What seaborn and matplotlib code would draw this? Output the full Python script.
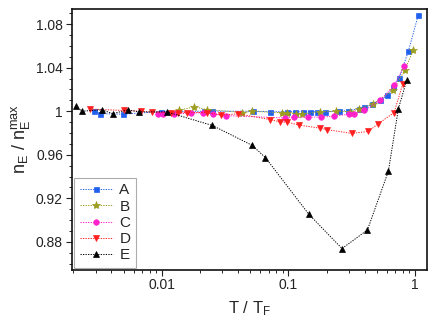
import numpy as np
import pandas as pd
import matplotlib
matplotlib.use("Agg")
import matplotlib.pyplot as plt
import matplotlib.ticker as mticker
import seaborn as sns

# ---- data ----
A_x = [0.00292, 0.00327, 0.00491, 0.00982, 0.0214, 0.0251, 0.0527, 0.0713, 0.0977, 0.1135,
       0.1305, 0.147, 0.168, 0.1955, 0.249, 0.293, 0.362, 0.397, 0.458, 0.530,
       0.605, 0.675, 0.752, 0.885, 1.062]
A_y = [1.0, 0.9978, 0.9973, 0.9996, 1.0, 1.0, 1.0, 0.9996, 0.9996, 0.9996,
       0.9996, 0.9996, 0.9996, 0.9996, 1.0, 1.0005, 1.0023, 1.0035, 1.0062, 1.0102,
       1.0145, 1.0222, 1.0309, 1.055, 1.0886]

B_x = [0.01368, 0.0180, 0.0228, 0.0432, 0.0511, 0.0897, 0.0982, 0.1146, 0.1289, 0.1786,
       0.2366, 0.3077, 0.364, 0.464, 0.675, 0.832, 0.970]
B_y = [1.001, 1.004, 1.0015, 0.9988, 1.0, 0.9985, 0.9987, 0.9978, 0.9978, 0.9993,
       1.0, 0.9996, 1.0022, 1.0067, 1.0195, 1.038, 1.0563]

C_x = [0.00925, 0.01013, 0.0125, 0.0169, 0.0213, 0.0252, 0.0322, 0.0946, 0.110, 0.1425,
       0.1796, 0.229, 0.2985, 0.331, 0.397, 0.530, 0.687, 0.819]
C_y = [0.9976, 0.9976, 0.9976, 0.9982, 0.9988, 0.9976, 0.996, 0.9938, 0.9944, 0.9945,
       0.9947, 0.9953, 0.9973, 0.9973, 1.0007, 1.0099, 1.0237, 1.0418]

D_x = [0.00272, 0.00499, 0.00684, 0.0083, 0.01177, 0.01343, 0.01574, 0.0228, 0.0293, 0.040,
       0.0721, 0.0865, 0.0977, 0.1205, 0.1786, 0.2016, 0.3177, 0.429, 0.514, 0.684, 0.800]
D_y = [1.002, 1.0007, 1.0, 0.9991, 0.9988, 0.9988, 0.9988, 0.9988, 0.9964, 0.9976,
       0.9923, 0.99, 0.99, 0.9873, 0.9844, 0.9831, 0.9796, 0.9815, 0.9886, 0.9988, 1.025]

E_x = [0.00209, 0.00234, 0.00335, 0.00409, 0.00543, 0.00656, 0.0109, 0.0251, 0.0518, 0.0659,
       0.1445, 0.265, 0.421, 0.616, 0.739, 0.861]
E_y = [1.0044, 1.0, 1.0013, 0.9978, 1.0013, 0.9994, 0.9994, 0.9869, 0.9686, 0.9573,
       0.9055, 0.8738, 0.8909, 0.9449, 1.0023, 1.0287]

labels = ["A", "B", "C", "D", "E"]
y_ticks = [0.88, 0.92, 0.96, 1.0, 1.04, 1.08]
x_ticks = [0.01, 0.1, 1]
x_ticklabels = ["0.01", "0.1", "1"]

# ---- style ----
sns.set_style("ticks")
plt.rcParams['font.family'] = ['Liberation Sans', 'DejaVu Sans']
plt.rcParams['mathtext.fontset'] = 'custom'
plt.rcParams['mathtext.rm'] = 'Liberation Sans'
plt.rcParams['mathtext.it'] = 'Liberation Sans'

fig = plt.figure(figsize=(4.36, 3.31), dpi=100)
ax = fig.add_axes([0.165, 0.184, 0.814, 0.789])

series = [
    (A_x, A_y, labels[0], "#2160ee", "s", 3.6),
    (B_x, B_y, labels[1], "#9c9c1e", "*", 6),
    (C_x, C_y, labels[2], "#ff22cc", "o", 4),
    (D_x, D_y, labels[3], "#ff1f1f", "v", 5),
    (E_x, E_y, labels[4], "#000000", "^", 5),
]

for xs, ys, lab, col, mk, ms in series:
    df = pd.DataFrame({"x": xs, "y": ys})
    sns.lineplot(data=df, x="x", y="y", ax=ax, color=col, linestyle=(0, (1.3, 1.3)),
                 linewidth=0.7, marker=mk, markersize=ms, markeredgecolor=col,
                 markeredgewidth=0.5, label=lab, sort=False)

ax.set_xscale("log")
ax.set_xlim(0.00195, 1.24)
ax.set_ylim(0.854, 1.094)

ax.set_yticks(y_ticks)
ax.yaxis.set_major_formatter(mticker.FormatStrFormatter("%g"))
ax.yaxis.set_minor_locator(mticker.MultipleLocator(0.01))
ax.set_xticks(x_ticks)
ax.xaxis.set_major_formatter(mticker.FixedFormatter(x_ticklabels))
ax.xaxis.set_minor_locator(mticker.LogLocator(base=10, subs=np.arange(2, 10)))
ax.xaxis.set_minor_formatter(mticker.NullFormatter())

ax.tick_params(axis="both", which="major", direction="out", length=4, width=0.8,
               labelsize=10, colors="#222222", top=False, right=False)
ax.tick_params(axis="x", which="major", pad=2)
ax.tick_params(axis="y", which="major", pad=2.5)
ax.tick_params(axis="both", which="minor", direction="out", length=2.5, width=0.7,
               top=False, right=False)

for sp in ax.spines.values():
    sp.set_linewidth(1.2)
    sp.set_color("#111111")

ax.set_xlabel(r"T / T$_\mathregular{F}$", fontsize=12, labelpad=5)
ax.set_ylabel(r"$\mathregular{n_E\ /\ n_E^{max}}$", fontsize=13, labelpad=3)

leg = ax.legend(loc="lower left", fontsize=11, frameon=True, fancybox=False,
                handlelength=2.2, handletextpad=0.4, labelspacing=0.15,
                borderpad=0.35, borderaxespad=0.15, edgecolor="#999999")
leg.get_frame().set_linewidth(0.8)

fig.savefig("out.png", dpi=100)
